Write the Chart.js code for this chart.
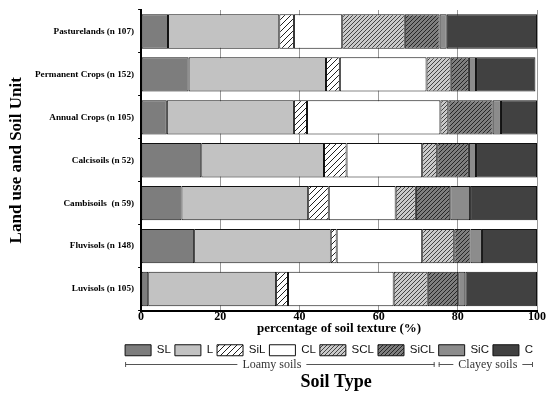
<!DOCTYPE html>
<html>
<head>
<meta charset="utf-8">
<script src="https://cdn.jsdelivr.net/npm/chart.js@4"></script>
<style>
  html, body { margin: 0; padding: 0; background: #fff; }
</style>
</head>
<body>
<canvas id="soilChart" width="550" height="394"></canvas>
<script>
// Land use / soil units, top to bottom
const categories = ['Pasturelands (n 107)', 'Permanent Crops (n 152)', 'Annual Crops (n 105)', 'Calcisoils (n 52)', 'Cambisoils  (n 59)', 'Fluvisols (n 148)', 'Luvisols (n 105)'];

// Percentage of each soil texture class
const slValues   = [6.8, 12.0, 6.5, 15.2, 10.2, 13.4, 1.8];
const lValues    = [28.1, 34.7, 32.1, 31.0, 32.0, 34.5, 32.3];
const silValues  = [3.7, 3.5, 3.3, 5.7, 5.2, 1.5, 3.0];
const clValues   = [12.2, 21.9, 33.7, 19.1, 16.9, 21.6, 26.7];
const sclValues  = [15.8, 6.1, 2.0, 3.8, 5.1, 8.1, 8.6];
const siclValues = [8.8, 4.6, 11.2, 8.0, 8.7, 4.1, 7.7];
const sicValues  = [1.8, 1.8, 2.1, 1.8, 5.0, 2.9, 1.8];
const cValues    = [22.8, 15.0, 9.1, 15.4, 16.9, 13.9, 18.1];

const textureLabels = ['SL', 'L', 'SiL', 'CL', 'SCL', 'SiCL', 'SiC', 'C'];
const xTicks = [0, 20, 40, 60, 80, 100];

const SERIF = "'Liberation Serif', 'Times New Roman', serif";
const SANS = "'Liberation Sans', Arial, sans-serif";

const ctx = document.getElementById('soilChart').getContext('2d');

// diagonal hatch fill
function hatch(bg, line, gap) {
    const p = document.createElement('canvas');
    p.width = gap; p.height = gap;
    const g = p.getContext('2d');
    g.fillStyle = bg;
    g.fillRect(0, 0, gap, gap);
    g.strokeStyle = line;
    g.lineWidth = 1;
    g.beginPath();
    g.moveTo(0, gap); g.lineTo(gap, 0);
    g.moveTo(-1, 1); g.lineTo(1, -1);
    g.moveTo(gap - 1, gap + 1); g.lineTo(gap + 1, gap - 1);
    g.stroke();
    return ctx.createPattern(p, 'repeat');
}

const fills = [
    '#7d7d7d',
    '#c2c2c2',
    hatch('#ffffff', '#222222', 6),
    '#ffffff',
    hatch('#cacaca', '#444444', 4),
    hatch('#7e7e7e', '#262626', 4),
    '#8c8c8c',
    '#414141'
];

const seriesValues = [slValues, lValues, silValues, clValues, sclValues, siclValues, sicValues, cValues];

const datasets = textureLabels.map((name, i) => ({
    label: name,
    data: seriesValues[i],
    backgroundColor: fills[i],
    borderColor: '#111111',
    borderWidth: 1,
    borderSkipped: false,
    barPercentage: 0.8,
    categoryPercentage: 1.0
}));

// brackets under the legend + "Soil Type" caption
const groupPlugin = {
    id: 'soilGroups',
    afterDraw(chart) {
        const boxes = chart.legend.legendHitBoxes;
        if (!boxes || boxes.length < 8) return;
        const c = chart.ctx;
        const y = Math.round(boxes[0].top + boxes[0].height + 8);
        const groups = [
            { text: 'Loamy soils', from: boxes[0].left, to: boxes[5].left + boxes[5].width, shift: -8 },
            { text: 'Clayey soils', from: boxes[6].left, to: boxes[7].left + boxes[7].width, shift: 2 }
        ];
        c.save();
        c.font = '12px ' + SERIF;
        c.textAlign = 'center';
        c.textBaseline = 'middle';
        groups.forEach(gr => {
            const mid = (gr.from + gr.to) / 2 + gr.shift;
            const w = c.measureText(gr.text).width;
            c.strokeStyle = '#555555';
            c.lineWidth = 1;
            c.beginPath();
            c.moveTo(gr.from, y + 0.5); c.lineTo(mid - w / 2 - 5, y + 0.5);
            c.moveTo(mid + w / 2 + 5, y + 0.5); c.lineTo(gr.to, y + 0.5);
            c.moveTo(gr.from + 0.5, y - 2); c.lineTo(gr.from + 0.5, y + 3);
            c.moveTo(gr.to - 0.5, y - 2); c.lineTo(gr.to - 0.5, y + 3);
            c.stroke();
            c.fillStyle = '#333333';
            c.fillText(gr.text, mid, y + 1);
        });
        c.font = 'bold 18px ' + SERIF;
        c.fillStyle = '#000000';
        const area = chart.chartArea;
        c.fillText('Soil Type', (area.left + area.right) / 2 - 3, y + 18);
        c.restore();
    }
};

new Chart(ctx, {
    type: 'bar',
    data: { labels: categories, datasets: datasets },
    options: {
        indexAxis: 'y',
        responsive: false,
        animation: false,
        devicePixelRatio: 1,
        layout: { padding: { top: 10, right: 13, bottom: 28, left: 8 } },
        plugins: {
            legend: {
                position: 'bottom',
                align: 'end',
                labels: {
                    boxWidth: 26,
                    boxHeight: 11,
                    padding: 4,
                    color: '#111111',
                    font: { family: SANS, size: 11.5 }
                }
            },
            tooltip: { enabled: false }
        },
        scales: {
            x: {
                stacked: true,
                min: 0,
                max: 100,
                ticks: {
                    stepSize: 10,
                    autoSkip: false,
                    maxRotation: 0,
                    padding: -2,
                    color: '#000000',
                    font: { family: SERIF, size: 12, weight: 'bold', lineHeight: 1 },
                    callback: v => (xTicks.includes(v) ? v : null)
                },
                grid: {
                    color: c => (c.tick && c.tick.value % 20 === 0 ? '#9a9a9a' : '#dddddd'),
                    tickLength: 2,
                    tickColor: '#000000'
                },
                border: { color: '#000000', width: 2 },
                title: {
                    display: true,
                    text: 'percentage of soil texture (%)',
                    color: '#000000',
                    font: { family: SERIF, size: 13, weight: 'bold', lineHeight: 1 },
                    padding: { top: 2, bottom: 5 }
                }
            },
            y: {
                stacked: true,
                ticks: {
                    color: '#000000',
                    padding: 4,
                    font: { family: SERIF, size: 9.2, weight: 'bold' }
                },
                grid: { drawOnChartArea: false, tickLength: 3, tickColor: '#000000' },
                border: { color: '#000000', width: 2 },
                title: {
                    display: true,
                    text: 'Land use and Soil Unit',
                    color: '#000000',
                    font: { family: SERIF, size: 17, weight: 'bold', lineHeight: 1 },
                    padding: { top: 0, bottom: 6 }
                }
            }
        }
    },
    plugins: [groupPlugin]
});
</script>
</body>
</html>
